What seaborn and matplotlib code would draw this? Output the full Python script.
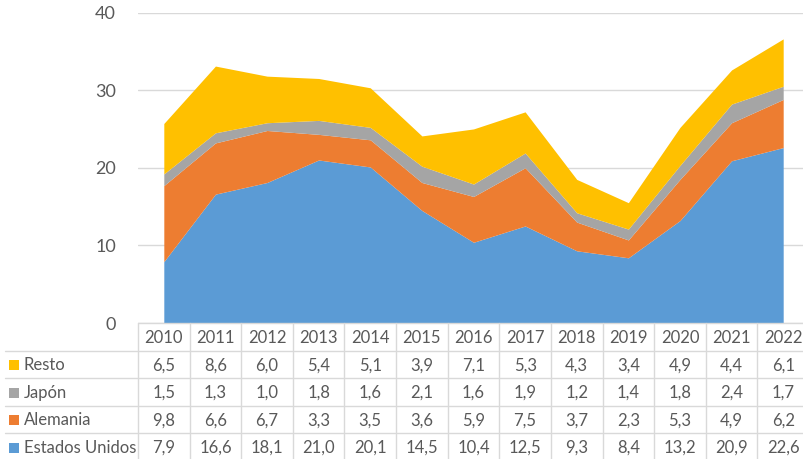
import matplotlib
matplotlib.use("Agg")
import matplotlib.pyplot as plt
import matplotlib.transforms as mtransforms
from matplotlib.patches import Rectangle
import numpy as np
import seaborn as sns

years = ["2010", "2011", "2012", "2013", "2014", "2015", "2016", "2017",
         "2018", "2019", "2020", "2021", "2022"]
estados_unidos = [7.9, 16.6, 18.1, 21.0, 20.1, 14.5, 10.4, 12.5, 9.3, 8.4, 13.2, 20.9, 22.6]
alemania = [9.8, 6.6, 6.7, 3.3, 3.5, 3.6, 5.9, 7.5, 3.7, 2.3, 5.3, 4.9, 6.2]
japon = [1.5, 1.3, 1.0, 1.8, 1.6, 2.1, 1.6, 1.9, 1.2, 1.4, 1.8, 2.4, 1.7]
resto = [6.5, 8.6, 6.0, 5.4, 5.1, 3.9, 7.1, 5.3, 4.3, 3.4, 4.9, 4.4, 6.1]

series_names = ["Estados Unidos", "Alemania", "Japón", "Resto"]
series_values = [estados_unidos, alemania, japon, resto]
colors = ["#5B9BD5", "#ED7D31", "#A5A5A5", "#FFC000"]
y_ticks = [0, 10, 20, 30, 40]

sns.set_theme(style="white")
plt.rcParams["font.family"] = ["Lato", "DejaVu Sans"]
TXT = "#595959"
GRID = "#D9D9D9"
FS = 12

W, H = 804, 459
fig = plt.figure(figsize=(W / 100, H / 100), dpi=100)

# pixel layout of plot area
left_px, right_px, top_px, bottom_px = 138, 809, 12.5, 323
ax = fig.add_axes([left_px / W, 1 - bottom_px / H,
                   (right_px - left_px) / W, (bottom_px - top_px) / H])
x = np.arange(len(years))
ax.stackplot(x, *series_values, colors=colors, linewidth=0)
ax.set_xlim(-0.5, len(years) - 0.5)
ax.set_ylim(0, 40)
ax.set_yticks(y_ticks)
ax.set_yticklabels([str(t) for t in y_ticks], color=TXT, fontsize=FS + 1)
ax.tick_params(axis="y", length=0, pad=16)
ax.set_xticks([])
ax.grid(axis="y", color=GRID, linewidth=1)
ax.set_axisbelow(True)
for s in ax.spines.values():
    s.set_visible(False)

# overlay axes in pixel coordinates for the data table
ov = fig.add_axes([0, 0, 1, 1], facecolor="none")
ov.set_xlim(0, W)
ov.set_ylim(H, 0)
ov.axis("off")
blend = mtransforms.blended_transform_factory(ax.transData, ov.transData)

header_top = 323
row_h = 27.5
rows = ["Resto", "Japón", "Alemania", "Estados Unidos"]
row_data = {"Resto": resto, "Japón": japon, "Alemania": alemania,
            "Estados Unidos": estados_unidos}
row_color = dict(zip(series_names, colors))

# horizontal lines
ov.plot([left_px, W], [header_top, header_top], color=GRID, lw=1)
for r in range(1, 5):
    yy = header_top + r * row_h
    ov.plot([5, W], [yy, yy], color=GRID, lw=1)
# vertical lines
for i in range(len(years) + 1):
    ov.plot([i - 0.5, i - 0.5], [header_top, H], color=GRID, lw=1, transform=blend)

# header years
for i, yr in enumerate(years):
    ov.text(i, header_top + row_h / 2 + 1, yr, ha="center", va="center",
            color=TXT, fontsize=FS, transform=blend)

for r, name in enumerate(rows):
    yc = header_top + (r + 1) * row_h + row_h / 2 + 1
    ov.add_patch(Rectangle((9, yc - 5), 10, 10, color=row_color[name], lw=0))
    ov.text(24, yc, name, ha="left", va="center", color=TXT, fontsize=FS)
    for i, v in enumerate(row_data[name]):
        ov.text(i, yc, f"{v:.1f}".replace(".", ","), ha="center", va="center",
                color=TXT, fontsize=FS, transform=blend)

fig.savefig("out.png", dpi=100)
